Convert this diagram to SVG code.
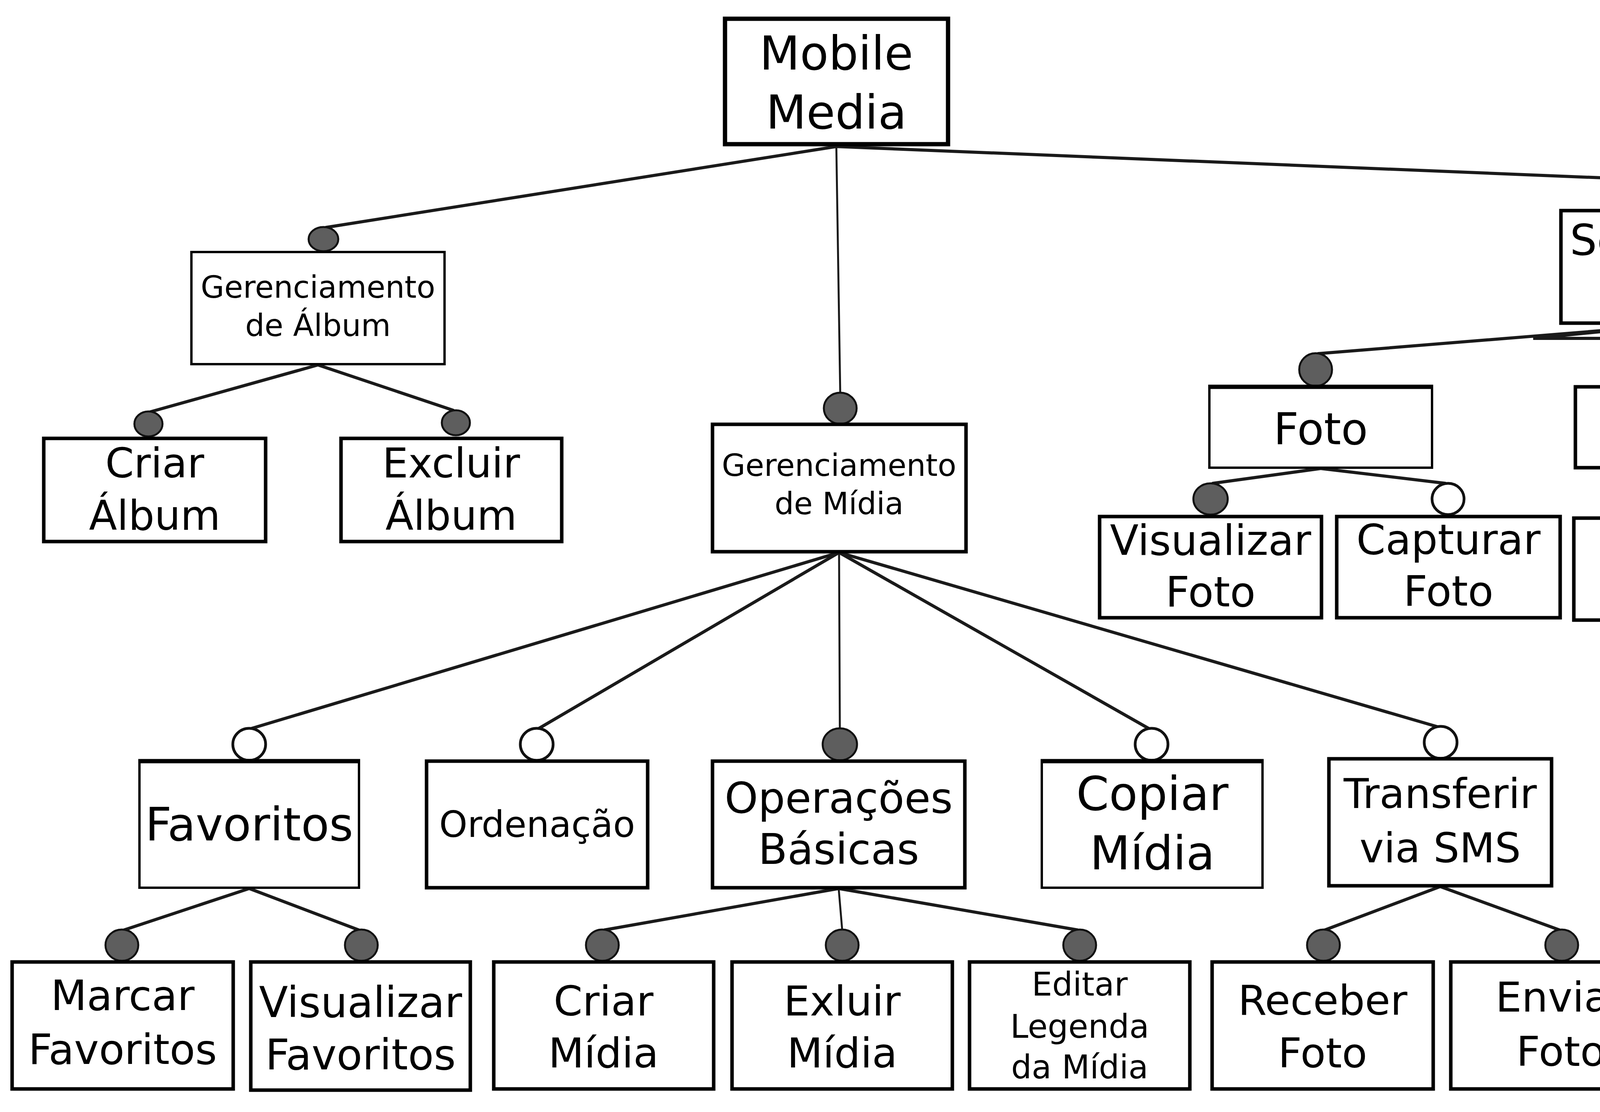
<svg xmlns="http://www.w3.org/2000/svg" width="5838" height="2846" viewBox="0 0 5838 2846">
<style>
.box{fill:#fff;stroke:#000;stroke-width:9}
.thin{stroke-width:6}
.top{stroke:#000;stroke-width:11}
.t{font-family:"DejaVu Sans","Liberation Sans",sans-serif;fill:#000;text-anchor:middle}
.conn line,.conn polygon{fill:none;stroke:#1a1a1a;stroke-width:8;stroke-linecap:round}
.conn .v{stroke-width:5}
.conn polygon{fill:#fff}
.dot{fill:#5e5e5e;stroke:#111;stroke-width:5}
.opt{fill:#fff;stroke:#111;stroke-width:7}
</style>
<rect width="5838" height="2846" fill="#fff"/>
<g id="connectors" class="conn">
<line x1="2141" y1="375" x2="835" y2="582"/>
<line class="v" x1="2141" y1="375" x2="2151" y2="1006"/>
<line x1="2141" y1="375" x2="4295" y2="463"/>
<line x1="814" y1="934" x2="385" y2="1054"/>
<line x1="814" y1="934" x2="1160" y2="1050"/>
<line x1="2148" y1="1414" x2="645" y2="1864"/>
<line x1="2148" y1="1414" x2="1380" y2="1864"/>
<line class="v" x1="2148" y1="1414" x2="2150" y2="1865"/>
<line x1="2148" y1="1414" x2="2940" y2="1864"/>
<line x1="2148" y1="1414" x2="3680" y2="1860"/>
<polygon points="4300,829 3925,866 4665,866"/>
<line x1="4300" y1="830" x2="3375" y2="905"/>
<line x1="4300" y1="830" x2="5185" y2="905"/>
<line class="v" x1="4319" y1="866" x2="4319" y2="903"/>
<line x1="3381" y1="1199" x2="3105" y2="1237"/>
<line x1="3381" y1="1199" x2="3700" y2="1237"/>
<line class="v" x1="4319" y1="1199" x2="4319" y2="1241"/>
<line x1="5213" y1="1199" x2="4930" y2="1245"/>
<line x1="5213" y1="1199" x2="5530" y2="1237"/>
<line x1="638" y1="2274" x2="318" y2="2380"/>
<line x1="638" y1="2274" x2="918" y2="2380"/>
<line x1="2147" y1="2274" x2="1548" y2="2380"/>
<line class="v" x1="2147" y1="2274" x2="2156" y2="2380"/>
<line x1="2147" y1="2274" x2="2758" y2="2380"/>
<line x1="3687" y1="2269" x2="3392" y2="2380"/>
<line x1="3687" y1="2269" x2="3992" y2="2380"/>
<ellipse class="dot" cx="828" cy="612" rx="38" ry="31"/>
<ellipse class="dot" cx="2151" cy="1045" rx="42" ry="40"/>
<ellipse class="dot" cx="4302" cy="503" rx="43" ry="42"/>
<ellipse class="dot" cx="380" cy="1085" rx="36" ry="32"/>
<ellipse class="dot" cx="1167" cy="1082" rx="36" ry="32"/>
<ellipse class="dot" cx="3368" cy="946" rx="42" ry="42"/>
<ellipse class="dot" cx="4319" cy="943" rx="42" ry="40"/>
<ellipse class="dot" cx="5191" cy="946" rx="42" ry="42"/>
<ellipse class="dot" cx="3099" cy="1277" rx="44" ry="40"/>
<ellipse class="opt" cx="3707" cy="1277" rx="41" ry="40"/>
<ellipse class="dot" cx="4319" cy="1281" rx="42" ry="40"/>
<ellipse class="dot" cx="4924" cy="1285" rx="42" ry="40"/>
<ellipse class="opt" cx="5536" cy="1277" rx="41" ry="40"/>
<ellipse class="opt" cx="638" cy="1905" rx="42" ry="41"/>
<ellipse class="opt" cx="1374" cy="1905" rx="42" ry="41"/>
<ellipse class="dot" cx="2150" cy="1905" rx="44" ry="41"/>
<ellipse class="opt" cx="2948" cy="1905" rx="42" ry="41"/>
<ellipse class="opt" cx="3688" cy="1900" rx="42" ry="41"/>
<ellipse class="dot" cx="312" cy="2419" rx="42" ry="40"/>
<ellipse class="dot" cx="925" cy="2419" rx="42" ry="40"/>
<ellipse class="dot" cx="1542" cy="2419" rx="42" ry="40"/>
<ellipse class="dot" cx="2156" cy="2419" rx="42" ry="40"/>
<ellipse class="dot" cx="2764" cy="2419" rx="42" ry="40"/>
<ellipse class="dot" cx="3388" cy="2419" rx="42" ry="40"/>
<ellipse class="dot" cx="3998" cy="2419" rx="42" ry="40"/>
</g>
<g id="n-mobile-media"><rect class="box" style="stroke-width:11" x="1856" y="48" width="571" height="321"/><text class="t" font-size="120" x="2141" y="178">Mobile</text><text class="t" font-size="120" x="2141" y="329">Media</text></g>
<g id="n-ger-album"><rect class="box thin" x="490" y="645" width="648" height="287"/><text class="t" font-size="78" x="814" y="762">Gerenciamento</text><text class="t" font-size="78" x="814" y="860">de Álbum</text></g>
<g id="n-criar-album"><rect class="box" x="112" y="1122" width="568" height="264"/><text class="t" font-size="105" x="396" y="1222">Criar</text><text class="t" font-size="105" x="396" y="1356">Álbum</text></g>
<g id="n-excluir-album"><rect class="box" x="873" y="1122" width="565" height="264"/><text class="t" font-size="105" x="1155" y="1222">Excluir</text><text class="t" font-size="105" x="1155" y="1356">Álbum</text></g>
<g id="n-ger-midia"><rect class="box" x="1824" y="1086" width="649" height="326"/><text class="t" font-size="78" x="2148" y="1218">Gerenciamento</text><text class="t" font-size="78" x="2148" y="1316">de Mídia</text></g>
<g id="n-selecao"><rect class="box" x="3996" y="539" width="644" height="288"/><text class="t" font-size="109" x="4318" y="652">Seleção de</text><text class="t" font-size="109" x="4318" y="790">Media</text></g>
<g id="n-foto"><rect class="box thin" x="3096" y="990" width="570" height="207"/><line class="top" x1="3093" y1="990" x2="3669" y2="990"/><text class="t" font-size="112" x="3381" y="1137">Foto</text></g>
<g id="n-musica"><rect class="box" x="4033" y="990" width="569" height="207"/><text class="t" font-size="118" x="4318" y="1127">Música</text></g>
<g id="n-video"><rect class="box thin" x="4933" y="990" width="561" height="207"/><line class="top" x1="4930" y1="990" x2="5497" y2="990"/><text class="t" font-size="118" x="5213" y="1127">Vídeo</text></g>
<g id="n-visualizar-foto"><rect class="box" x="2815" y="1322" width="568" height="259"/><text class="t" font-size="107" x="3099" y="1420">Visualizar</text><text class="t" font-size="107" x="3099" y="1552">Foto</text></g>
<g id="n-capturar-foto"><rect class="box" x="3422" y="1322" width="572" height="259"/><text class="t" font-size="107" x="3708" y="1418">Capturar</text><text class="t" font-size="107" x="3708" y="1550">Foto</text></g>
<g id="n-play-musica"><rect class="box" x="4029" y="1326" width="567" height="261"/><text class="t" font-size="107" x="4313" y="1424">Play</text><text class="t" font-size="107" x="4313" y="1558">Música</text></g>
<g id="n-play-video"><rect class="box" x="4646" y="1330" width="562" height="256"/><text class="t" font-size="107" x="4927" y="1422">Play</text><text class="t" font-size="107" x="4927" y="1556">Vídeo</text></g>
<g id="n-capturar-video"><rect class="box" x="5255" y="1318" width="567" height="260"/><text class="t" font-size="107" x="5538" y="1415">Capturar</text><text class="t" font-size="107" x="5538" y="1547">Vídeo</text></g>
<g id="n-favoritos"><rect class="box thin" x="357" y="1948" width="562" height="324"/><line class="top" x1="354" y1="1948" x2="922" y2="1948"/><text class="t" font-size="118" x="638" y="2151">Favoritos</text></g>
<g id="n-ordenacao"><rect class="box" x="1092" y="1948" width="566" height="324"/><text class="t" font-size="92" x="1375" y="2142">Ordenação</text></g>
<g id="n-operacoes"><rect class="box" x="1824" y="1948" width="646" height="324"/><text class="t" font-size="109" x="2147" y="2080">Operações</text><text class="t" font-size="109" x="2147" y="2211">Básicas</text></g>
<g id="n-copiar"><rect class="box thin" x="2667" y="1948" width="565" height="324"/><line class="top" x1="2664" y1="1948" x2="3235" y2="1948"/><text class="t" font-size="120" x="2950" y="2073">Copiar</text><text class="t" font-size="120" x="2950" y="2225">Mídia</text></g>
<g id="n-transferir"><rect class="box" x="3402" y="1942" width="570" height="325"/><text class="t" font-size="105" x="3687" y="2068">Transferir</text><text class="t" font-size="105" x="3687" y="2207">via SMS</text></g>
<g id="n-marcar-fav"><rect class="box" x="31" y="2462" width="566" height="325"/><text class="t" font-size="107" x="314" y="2585">Marcar</text><text class="t" font-size="107" x="314" y="2723">Favoritos</text></g>
<g id="n-visualizar-fav"><rect class="box" x="642" y="2462" width="562" height="328"/><text class="t" font-size="108" x="923" y="2603">Visualizar</text><text class="t" font-size="108" x="923" y="2737">Favoritos</text></g>
<g id="n-criar-midia"><rect class="box" x="1264" y="2462" width="563" height="325"/><text class="t" font-size="106" x="1545" y="2599">Criar</text><text class="t" font-size="106" x="1545" y="2732">Mídia</text></g>
<g id="n-exluir-midia"><rect class="box" x="1874" y="2462" width="564" height="325"/><text class="t" font-size="106" x="2156" y="2599">Exluir</text><text class="t" font-size="106" x="2156" y="2732">Mídia</text></g>
<g id="n-editar-legenda"><rect class="box" x="2482" y="2462" width="564" height="325"/><text class="t" font-size="83" x="2764" y="2548">Editar</text><text class="t" font-size="83" x="2764" y="2656">Legenda</text><text class="t" font-size="83" x="2764" y="2760">da Mídia</text></g>
<g id="n-receber-foto"><rect class="box" x="3103" y="2462" width="566" height="325"/><text class="t" font-size="106" x="3386" y="2597">Receber</text><text class="t" font-size="106" x="3386" y="2732">Foto</text></g>
<g id="n-enviar-foto"><rect class="box" x="3714" y="2462" width="564" height="325"/><text class="t" font-size="106" x="3996" y="2589">Enviar</text><text class="t" font-size="106" x="3996" y="2728">Foto</text></g>
</svg>
